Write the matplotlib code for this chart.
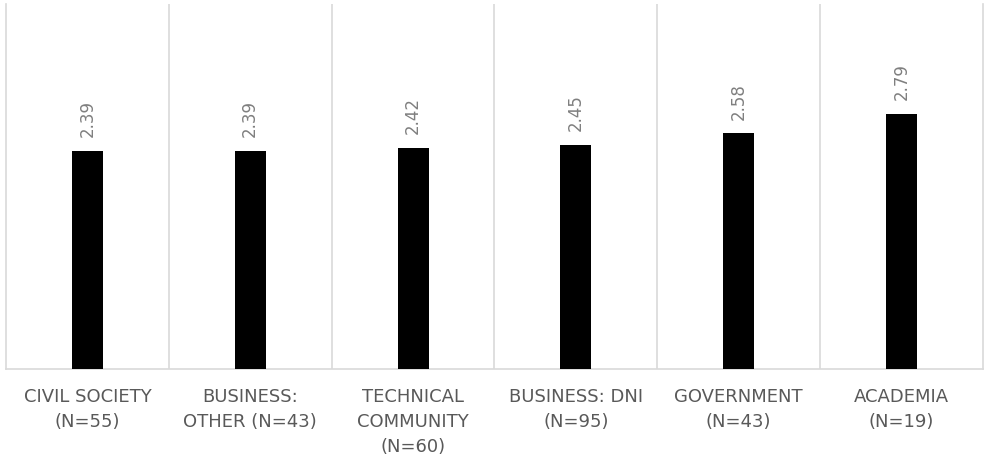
import matplotlib
matplotlib.use("Agg")
import matplotlib.pyplot as plt
from matplotlib.ticker import FixedLocator

# Mean scores per stakeholder group
groups = [
    "CIVIL SOCIETY\n(N=55)",
    "BUSINESS:\nOTHER (N=43)",
    "TECHNICAL\nCOMMUNITY\n(N=60)",
    "BUSINESS: DNI\n(N=95)",
    "GOVERNMENT\n(N=43)",
    "ACADEMIA\n(N=19)",
]
scores = [2.39, 2.39, 2.42, 2.45, 2.58, 2.79]

GRID = "#d9d9d9"
LABEL = "#595959"
VALUE = "#7f7f7f"

fig = plt.figure(figsize=(9.86, 4.59), dpi=100)
ax = fig.add_axes([6 / 986, 90.3 / 459, 977 / 986, 364.7 / 459])

x = list(range(len(groups)))
ax.bar(x, scores, width=0.19, color="black", zorder=3)

for xi, v in zip(x, scores):
    ax.annotate(f"{v:.2f}", (xi, v), xytext=(0, 10), textcoords="offset points",
                rotation=90, ha="center", va="bottom", fontsize=12, color=VALUE)

ax.set_xlim(-0.5, len(groups) - 0.5)
ax.set_ylim(0, 4)

# Category separators
ax.xaxis.set_minor_locator(FixedLocator([i + 0.5 for i in range(len(groups) - 1)]))
ax.grid(True, which="minor", axis="x", color=GRID, linewidth=1.2)
ax.tick_params(axis="x", which="minor", length=0)

ax.set_xticks(x)
ax.set_xticklabels(groups, fontsize=13, color=LABEL, ha="center",
                   linespacing=1.5)
ax.tick_params(axis="x", which="major", length=0, pad=14)
ax.set_yticks([])

for side in ("left", "right", "bottom"):
    ax.spines[side].set_color(GRID)
    ax.spines[side].set_linewidth(1.2)
ax.spines["top"].set_visible(False)

fig.savefig("out.png", dpi=100, facecolor="white")
